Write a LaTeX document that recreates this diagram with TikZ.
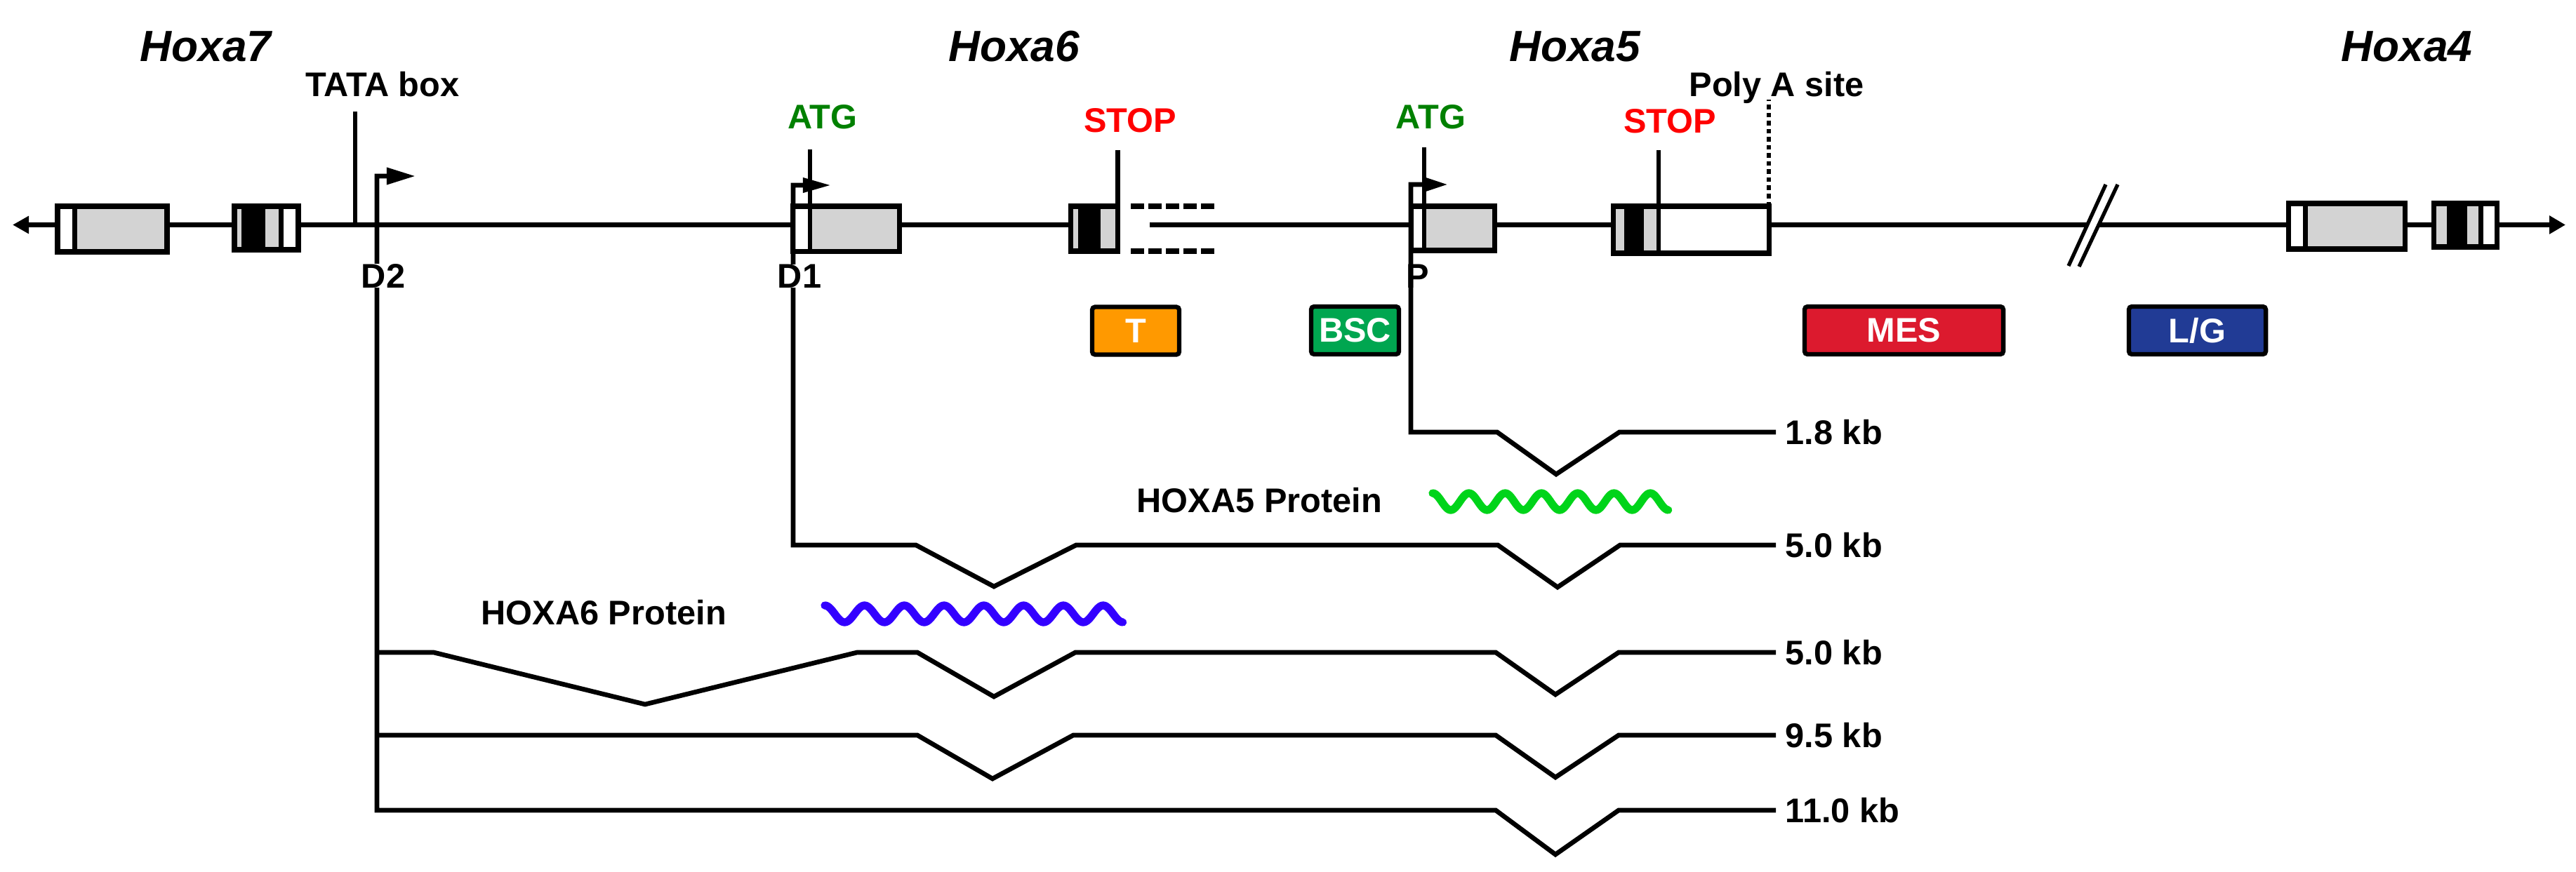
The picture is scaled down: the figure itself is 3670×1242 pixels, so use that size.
\documentclass[tikz,border=0pt]{standalone}
\usepackage{fontspec}
\setmainfont{Liberation Sans}
\usepackage{tikz}
\usetikzlibrary{positioning}
\usetikzlibrary{calc}
\usetikzlibrary{arrows.meta}

\definecolor{exongray}{HTML}{D3D3D3}
\definecolor{atggreen}{HTML}{008000}
\definecolor{stopred}{HTML}{FF0000}
\definecolor{tissT}{HTML}{FF9900}
\definecolor{tissBSC}{HTML}{00A650}
\definecolor{tissMES}{HTML}{DC1A2E}
\definecolor{tissLG}{HTML}{213B95}
\definecolor{protsix}{HTML}{3300FF}
\definecolor{protfive}{HTML}{00D41A}

\tikzset{
  genename/.style={font=\fontsize{17.7}{21}\selectfont\bfseries\itshape, inner sep=0pt, anchor=base},
  lbl/.style={font=\fontsize{13.85}{16}\selectfont\bfseries, inner sep=0pt},
  tissue/.style={draw, line width=1.8pt, rounded corners=1.2pt, minimum height=0.68cm, inner sep=0pt, text=white, font=\fontsize{13.85}{16}\selectfont\bfseries},
  chrom/.style={line width=2pt},
  exon/.style={line width=2pt},
  siteline/.style={line width=1.75pt},
  mrna/.style={line width=1.9pt},
  protein/.style={line width=3.2pt, line cap=round, line join=round},
}

\begin{document}
\begin{tikzpicture}[x=0.01cm, y=-0.01cm]
    \useasboundingbox (0,0) rectangle (3670,1242);

    % chromosome
    \coordinate (chrL) at (18,320.5);
    \coordinate (gapL) at (1525,320.5);
    \coordinate (gapR) at (1638,320.5);
    \coordinate (chrR) at (3655,320.5);
    \draw[chrom, {Triangle[length=0.23cm,width=0.24cm]}-] (chrL) -- (gapL);
    \draw[chrom, -{Triangle[length=0.23cm,width=0.25cm]}] (gapR) -- (chrR);

    \fill[white] (3000,263) -- (3017,263) -- (2962,380) -- (2947,379) -- cycle;
    \draw[line width=1.5pt] (3000,263) -- (2947,379) (3017,263) -- (2962,380);

    % Hoxa7 exons
    \fill[white] (82,294) rectangle (238,359);
    \fill[exongray] (106.5,294) rectangle (238,359);
    \draw[exon] (106.5,294) -- (106.5,359);
    \draw[exon] (82,294) rectangle (238,359);

    \fill[white] (334,294) rectangle (425,356);
    \fill[exongray] (334,294) rectangle (400.5,356);
    \fill (344,294) rectangle (378,356);
    \draw[exon] (400.5,294) -- (400.5,356);
    \draw[exon] (334,294) rectangle (425,356);

    % Hoxa6 exons
    \fill[white] (1129.5,294) rectangle (1281.5,358.5);
    \fill[exongray] (1154,294) rectangle (1281.5,358.5);
    \draw[exon] (1129.5,294) rectangle (1281.5,358.5);

    \fill[exongray] (1525,294) rectangle (1592.5,358);
    \fill (1536,294) rectangle (1568,358);
    \draw[exon] (1525,294) rectangle (1592.5,358);
    \draw[exon, dash pattern=on 0.19cm off 0.06cm] (1611,294) -- (1730,294) (1611,358) -- (1730,358);

    % Hoxa5 exons
    \fill[white] (2010,294) rectangle (2129,357);
    \fill[exongray] (2029,294) rectangle (2129,357);
    \draw[exon] (2010,294) rectangle (2129,357);

    \fill[white] (2298,294) rectangle (2520,361);
    \fill[exongray] (2298,294) rectangle (2363,361);
    \fill (2314,294) rectangle (2342,361);
    \draw[exon] (2298,294) rectangle (2520,361);

    % Hoxa4 exons
    \fill[white] (3260,290) rectangle (3426,355);
    \fill[exongray] (3284,290) rectangle (3426,355);
    \draw[exon] (3284,290) -- (3284,355);
    \draw[exon] (3260,290) rectangle (3426,355);

    \fill[white] (3467,290) rectangle (3557,352);
    \fill[exongray] (3467,290) rectangle (3534,352);
    \fill (3486,290) rectangle (3515,352);
    \draw[exon] (3534,290) -- (3534,352);
    \draw[exon] (3467,290) rectangle (3557,352);

    % sites
    \coordinate (tatapos) at (506,320.5);
    \coordinate (atgsix) at (1154,358.5);
    \coordinate (stopsix) at (1592.5,294);
    \coordinate (atgfive) at (2029,357);
    \coordinate (stopfive) at (2363,361);
    \coordinate (polyapos) at (2520,294);
    \draw[siteline] (tatapos) -- ++(0,-161.5);
    \draw[siteline] (atgsix) -- ++(0,-145.5);
    \draw[siteline] (stopsix) -- ++(0,-80);
    \draw[siteline] (atgfive) -- ++(0,-147);
    \draw[siteline] (stopfive) -- ++(0,-147);
    \draw[siteline, dash pattern=on 0.065cm off 0.05cm] (polyapos) -- ++(0,-152);

    \node[genename] (hoxa7) at (293,87) {Hoxa7};
    \node[genename] (hoxa6) at (1444.5,87) {Hoxa6};
    \node[genename] (hoxa5) at (2243.5,87) {Hoxa5};
    \node[genename] (hoxa4) at (3429,87) {Hoxa4};

    \node[lbl, anchor=base] (tata) at (545,137) {TATA box};
    \node[lbl, anchor=base] (polya) at (2531,137) {Poly A site};
    \node[lbl, anchor=base, text=atggreen] (atg6) at (1172,183) {ATG};
    \node[lbl, anchor=base, text=atggreen] (atg5) at (2038.5,183) {ATG};
    \node[lbl, anchor=base, text=stopred] (stop6) at (1610,188) {STOP};
    \node[lbl, anchor=base, text=stopred] (stop5) at (2379,189) {STOP};

    % transcripts
    \coordinate (d2) at (537,251);
    \coordinate (d2tip) at (592,251);
    \coordinate (d1) at (1130,264);
    \coordinate (d1tip) at (1184,264);
    \coordinate (p) at (2010,263);
    \coordinate (ptip) at (2063,263);

    \coordinate (e18) at (2530,616);
    \coordinate (e50a) at (2530,777);
    \coordinate (e50b) at (2530,930);
    \coordinate (e95) at (2530,1048);
    \coordinate (e110) at (2530,1155);

    \draw[mrna, -{Triangle[length=0.35cm,width=0.2cm]}] (e18) -- (2307,616) -- (2217,676) -- (2133,616) -- (p |- e18) -- (p) -- (ptip);
    \draw[mrna, -{Triangle[length=0.4cm,width=0.2cm]}] (e50a) -- (2308,777) -- (2219,837) -- (2134,777) -- (1533,777) -- (1416,836) -- (1305,777) -- (d1 |- e50a) -- (d1) -- (d1tip);
    \draw[mrna] (e50b) -- (2306,930) -- (2216,990) -- (2131,930) -- (1532,930) -- (1416,993) -- (1307,930) -- (1221,930) -- (919,1004) -- (618,930) -- (d2 |- e50b);
    \draw[mrna] (e95) -- (2306,1048) -- (2216,1108) -- (2131,1048) -- (1529,1048) -- (1414,1110) -- (1307,1048) -- (d2 |- e95);
    \draw[mrna, -{Triangle[length=0.41cm,width=0.23cm]}] (e110) -- (2306,1155) -- (2216,1218) -- (2131,1155) -- (d2 |- e110) -- (d2) -- (d2tip);

    \node[lbl, right=0.13cm of e18] (kb18) {1.8 kb};
    \node[lbl, right=0.13cm of e50a] (kb50a) {5.0 kb};
    \node[lbl, right=0.13cm of e50b] (kb50b) {5.0 kb};
    \node[lbl, right=0.13cm of e95] (kb95) {9.5 kb};
    \node[lbl, right=0.13cm of e110] (kb110) {11.0 kb};

    \node[lbl, fill=white, anchor=base] (D2) at (546,410) {D2};
    \node[lbl, fill=white, anchor=base] (D1) at (1139,410) {D1};
    \node[lbl, anchor=base west] (P) at (2003,410) {P};

    % expression domains
    \node[tissue, fill=tissT, minimum width=1.24cm] (T) at (1618,471.5) {T};
    \node[tissue, fill=tissBSC, minimum width=1.25cm] (BSC) at (1930.5,471) {BSC};
    \node[tissue, fill=tissMES, minimum width=2.83cm] (MES) at (2712.5,471) {MES};
    \node[tissue, fill=tissLG, minimum width=1.95cm] (LG) at (3130.5,471) {L/G};

    % proteins
    \node[lbl, anchor=base west] (prot5) at (1619,730) {HOXA5 Protein};
    \node[lbl, anchor=base west] (prot6) at (685,890) {HOXA6 Protein};
    \draw[protein, protfive] plot[domain=0:1, samples=200] ({2041+336*\x}, {715-12*cos(2340*\x)});
    \draw[protein, protsix] plot[domain=0:1, samples=200] ({1175+425*\x}, {875-12*cos(2700*\x)});

\end{tikzpicture}
\end{document}
